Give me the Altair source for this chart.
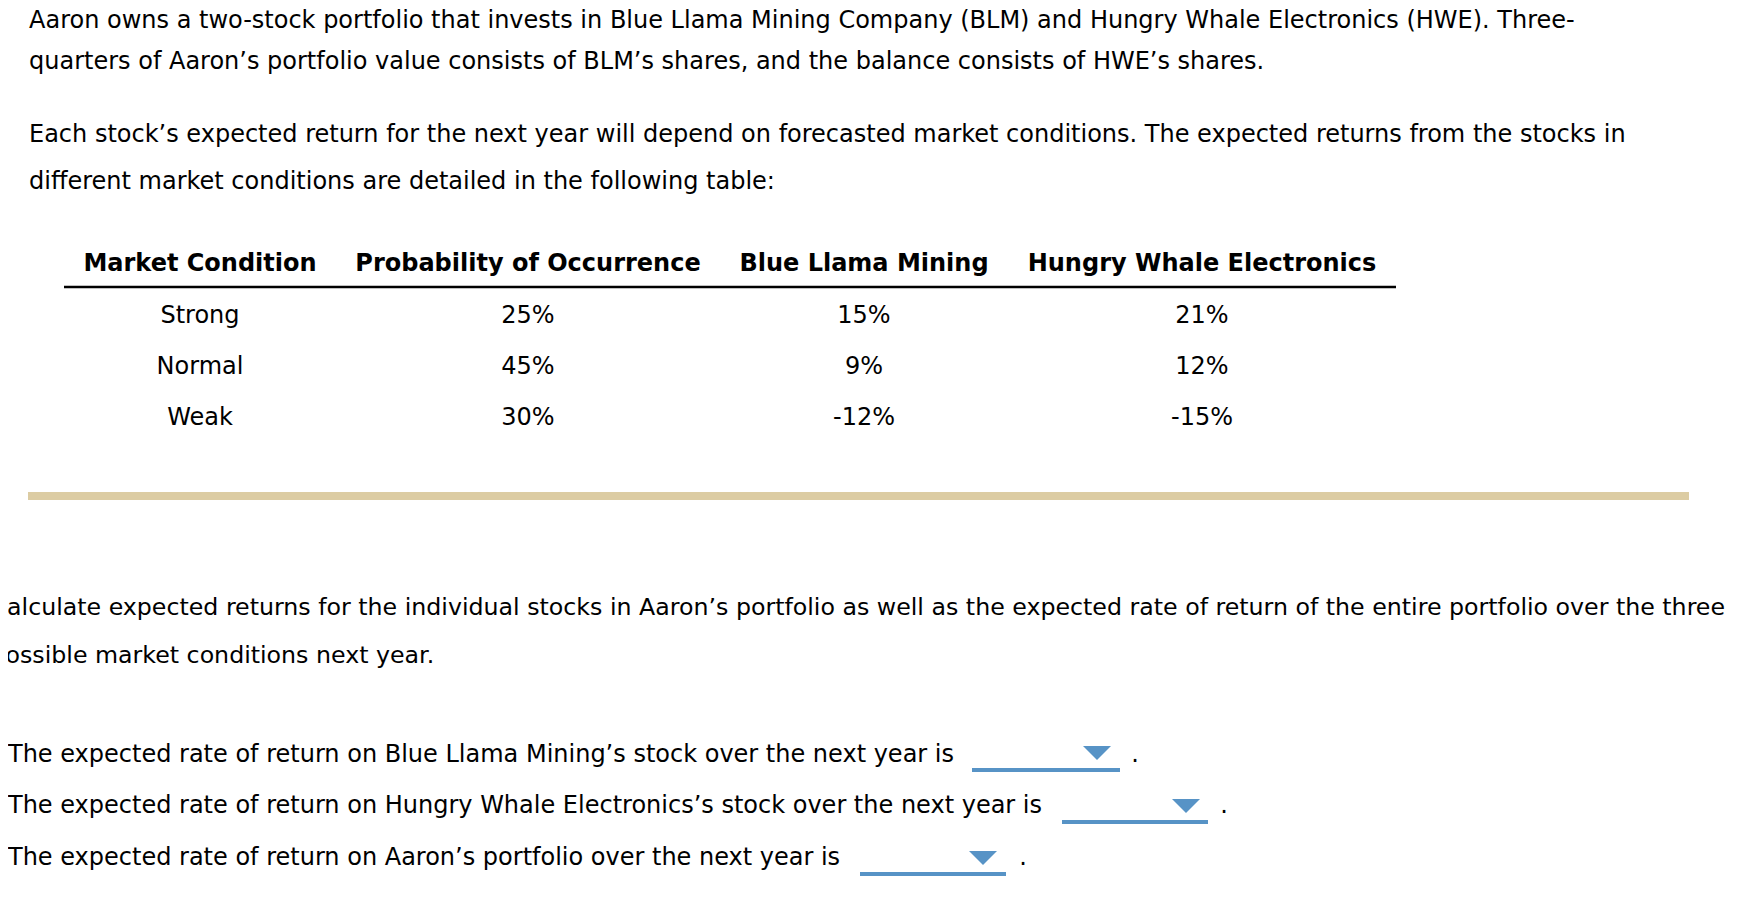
import altair as alt
import pandas as pd

# ---------------- content ----------------
intro_lines = [
    "Aaron owns a two-stock portfolio that invests in Blue Llama Mining Company (BLM) and Hungry Whale Electronics (HWE). Three-",
    "quarters of Aaron\u2019s portfolio value consists of BLM\u2019s shares, and the balance consists of HWE\u2019s shares.",
    "Each stock\u2019s expected return for the next year will depend on forecasted market conditions. The expected returns from the stocks in",
    "different market conditions are detailed in the following table:",
]
headers = ["Market Condition", "Probability of Occurrence", "Blue Llama Mining", "Hungry Whale Electronics"]
conditions = ["Strong", "Normal", "Weak"]
probability = ["25%", "45%", "30%"]
blm_returns = ["15%", "9%", "-12%"]
hwe_returns = ["21%", "12%", "-15%"]
task_lines = [
    "Calculate expected returns for the individual stocks in Aaron\u2019s portfolio as well as the expected rate of return of the entire portfolio over the three",
    "possible market conditions next year.",
]
questions = [
    "The expected rate of return on Blue Llama Mining\u2019s stock over the next year is",
    "The expected rate of return on Hungry Whale Electronics\u2019s stock over the next year is",
    "The expected rate of return on Aaron\u2019s portfolio over the next year is",
]

# ---------------- layout (pixels from the chart origin) ----------------
W, H = 1734, 884
FONT = "DejaVu Sans"
FS = 24
TASK_FS = 23.7
intro_x = 21
intro_y = [20, 60.5, 133.5, 180.5]
col_x = [192, 520, 856, 1194]
header_y = 263
row_y = [315, 366, 417]
task_x = -17.5
task_y = [607, 655]
q_x = 0
q_y = [754, 805, 857]
drop_x = [964, 1054, 852]
drop_x2 = [1112, 1200, 998]
drop_line_y = [762, 814, 866]
tri_x = [1089, 1178, 975]
tri_y = [745, 798, 850]
dot_x = [1127, 1216, 1015]
BLUE = "#5793C6"
TAN = "#DCCCA3"

xs = alt.Scale(domain=[0, W], nice=False, zero=False)
ys = alt.Scale(domain=[0, H], nice=False, zero=False, reverse=True)


def X(field="x"):
    return alt.X(f"{field}:Q", scale=xs, axis=None)


def Y(field="y"):
    return alt.Y(f"{field}:Q", scale=ys, axis=None)


def text_layer(df, align="left", weight="normal", clip=False, size=FS):
    return alt.Chart(df).mark_text(
        align=align, baseline="alphabetic", font=FONT, fontSize=size,
        fontWeight=weight, color="#000000", clip=clip
    ).encode(x=X(), y=Y(), text="t:N")


intro_df = pd.DataFrame({"t": intro_lines, "x": intro_x, "y": intro_y})
head_df = pd.DataFrame({"t": headers, "x": col_x, "y": header_y})
cells = []
for ri, row in enumerate(zip(conditions, probability, blm_returns, hwe_returns)):
    for ci, val in enumerate(row):
        cells.append({"t": val, "x": col_x[ci], "y": row_y[ri]})
cell_df = pd.DataFrame(cells)
task_df = pd.DataFrame({"t": task_lines, "x": task_x, "y": task_y})
q_df = pd.DataFrame({"t": questions, "x": q_x, "y": q_y})
dot_df = pd.DataFrame({"t": ["."] * 3, "x": dot_x, "y": q_y})

rule_df = pd.DataFrame({"x": [56], "x2": [1388], "y": [279]})
tan_df = pd.DataFrame({"x": [20], "x2": [1681], "y": [488]})
under_df = pd.DataFrame({"x": drop_x, "x2": drop_x2, "y": drop_line_y})
tri_df = pd.DataFrame({"x": tri_x, "y": tri_y})

header_rule = alt.Chart(rule_df).mark_rule(color="#000000", strokeWidth=2.5).encode(
    x=X(), x2="x2:Q", y=Y())
tan_rule = alt.Chart(tan_df).mark_rule(color=TAN, strokeWidth=8).encode(
    x=X(), x2="x2:Q", y=Y())
underlines = alt.Chart(under_df).mark_rule(color=BLUE, strokeWidth=4).encode(
    x=X(), x2="x2:Q", y=Y())
triangles = alt.Chart(tri_df).mark_point(
    shape="M-1,-0.5L1,-0.5L0,0.5Z", size=784, filled=True, color=BLUE, opacity=1, strokeWidth=0
).encode(x=X(), y=Y())

chart = alt.layer(
    text_layer(intro_df),
    text_layer(head_df, align="center", weight="bold"),
    header_rule,
    text_layer(cell_df, align="center"),
    tan_rule,
    text_layer(task_df, clip=True, size=TASK_FS),
    text_layer(q_df),
    underlines,
    triangles,
    text_layer(dot_df, align="center"),
).properties(
    width=W, height=H, padding=0, autosize=alt.AutoSizeParams(type="none"),
    background="#ffffff"
).configure_view(stroke=None)

chart.save("out.html", embed_options={"renderer": "svg", "actions": False})
